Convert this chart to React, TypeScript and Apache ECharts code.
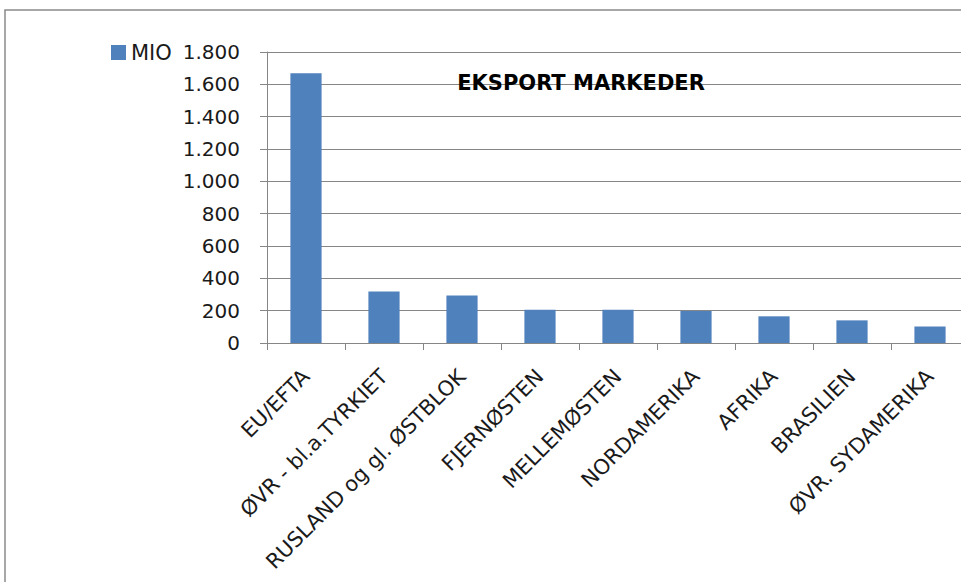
import React, { useEffect, useRef } from "react";
import * as echarts from "echarts";

const categories = [
  "EU/EFTA",
  "ØVR - bl.a.TYRKIET",
  "RUSLAND og gl. ØSTBLOK",
  "FJERNØSTEN",
  "MELLEMØSTEN",
  "NORDAMERIKA",
  "AFRIKA",
  "BRASILIEN",
  "ØVR. SYDAMERIKA",
];
const mioValues = [1668, 318, 294, 205, 205, 198, 165, 140, 102];
const seriesName = "MIO";
const chartTitle = "EKSPORT MARKEDER";

const FONT = "'DejaVu Sans', sans-serif";

function fmt(v: number): string {
  return String(v).replace(/\B(?=(\d{3})+(?!\d))/g, ".");
}

export default function App() {
  const ref = useRef<HTMLDivElement>(null);
  useEffect(() => {
    if (!ref.current) return;
    const chart = echarts.init(ref.current, undefined, { renderer: "svg" });
    chart.setOption({
      animation: false,
      backgroundColor: "#ffffff",
      legend: {
        left: 106,
        top: 37,
        icon: "rect",
        itemWidth: 15,
        itemHeight: 15,
        itemGap: 5,
        textStyle: { fontFamily: FONT, fontSize: 21, color: "#1a1a1a" },
        data: [seriesName],
      },
      graphic: [
        {
          type: "rect",
          shape: { x: 5, y: 10, width: 1100, height: 800 },
          style: { fill: "none", stroke: "#8a8a8a", lineWidth: 1.5 },
          silent: true,
          z: -1,
        },
        {
          type: "text",
          x: 581,
          y: 83,
          z: 10,
          style: {
            text: chartTitle,
            fontFamily: FONT,
            fontSize: 21,
            fontWeight: "bold",
            fill: "#000",
            textAlign: "center",
            textVerticalAlign: "middle",
          },
        },
      ],
      grid: { left: 267, top: 52, width: 702, height: 291 },
      xAxis: {
        type: "category",
        data: categories,
        axisLine: { lineStyle: { color: "#868686", width: 1 } },
        axisTick: { show: true, length: 7, lineStyle: { color: "#868686" } },
        axisLabel: {
          rotate: 45,
          interval: 0,
          margin: 30,
          fontFamily: FONT,
          fontSize: 21,
          color: "#1a1a1a",
        },
      },
      yAxis: {
        type: "value",
        min: 0,
        max: 1800,
        interval: 200,
        axisLine: { show: true, lineStyle: { color: "#868686", width: 1 } },
        axisTick: { show: true, length: 7, lineStyle: { color: "#868686" } },
        splitLine: { show: true, lineStyle: { color: "#868686", width: 1 } },
        axisLabel: {
          margin: 27,
          fontFamily: FONT,
          fontSize: 20,
          color: "#1a1a1a",
          formatter: (v: number) => fmt(v),
        },
      },
      series: [
        {
          name: seriesName,
          type: "bar",
          data: mioValues,
          barWidth: "40%",
          itemStyle: { color: "#4F81BD" },
        },
      ],
    });
    return () => chart.dispose();
  }, []);
  return (
    <div
      style={{
        position: "fixed",
        left: 0,
        top: 0,
        width: 961,
        height: 582,
        overflow: "hidden",
        background: "#fff",
      }}
    >
      <div ref={ref} style={{ width: 1000, height: 582 }} />
    </div>
  );
}
